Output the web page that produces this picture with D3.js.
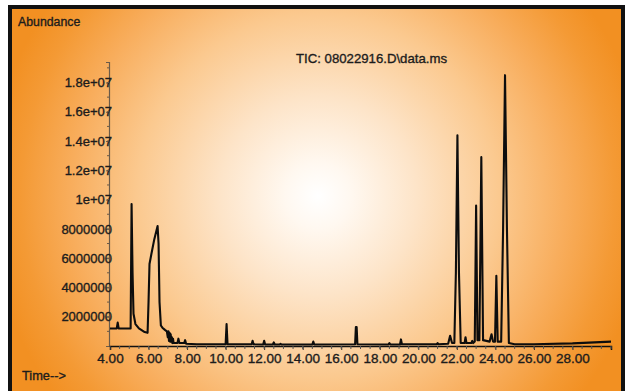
<!DOCTYPE html>
<html><head><meta charset="utf-8">
<script src="https://cdn.jsdelivr.net/npm/d3@7"></script>
<style>html,body{margin:0;padding:0;background:#fff;}svg{display:block;}</style>
</head><body>
<script>
// ---- data ----
const title = "TIC: 08022916.D\\data.ms";
const yLabel = "Abundance";
const xLabel = "Time-->";
const xTickValues = [4, 6, 8, 10, 12, 14, 16, 18, 20, 22, 24, 26, 28];
const yTickValues = [2e6, 4e6, 6e6, 8e6, 1e7, 1.2e7, 1.4e7, 1.6e7, 1.8e7];
const yTickLabels = ["2000000", "4000000", "6000000", "8000000", "1e+07", "1.2e+07", "1.4e+07", "1.6e+07", "1.8e+07"];
// retention time (min)
const times = [4.00,4.35,4.40,4.45,5.07,5.12,5.17,5.22,5.32,5.50,5.80,5.95,6.00,6.05,6.15,6.30,6.47,6.52,6.57,6.64,6.72,6.85,6.95,7.00,7.03,7.06,7.09,7.12,7.15,7.18,7.21,7.24,7.27,7.30,7.50,7.55,7.60,7.85,7.90,7.95,8.50,10.00,10.05,10.10,11.35,11.40,11.45,11.95,12.00,12.05,12.45,12.50,12.55,12.80,12.85,12.90,14.50,14.55,14.60,16.72,16.76,16.80,16.84,18.45,18.50,18.55,19.05,19.10,19.15,20.95,21.00,21.05,21.55,21.65,21.75,21.87,21.95,22.03,22.11,22.20,22.40,22.45,22.50,22.75,22.80,22.85,22.93,23.00,23.07,23.17,23.27,23.36,23.70,23.80,23.88,23.98,24.05,24.12,24.30,24.40,24.50,24.60,24.70,25.00,26.00,28.00,30.00];
// abundance (counts)
const abundance = [1.20e6,1.20e6,1.60e6,1.20e6,1.20e6,9.70e6,5.0e6,2.2e6,1.5e6,1.2e6,0.95e6,0.90e6,3.0e6,5.6e6,6.3e6,7.3e6,8.2e6,7.0e6,3.0e6,1.4e6,1.25e6,1.1e6,1.0e6,0.6e6,1.0e6,0.35e6,0.9e6,0.3e6,0.8e6,0.3e6,0.6e6,0.2e6,0.5e6,0.2e6,0.2e6,0.5e6,0.2e6,0.2e6,0.4e6,0.15e6,0.12e6,0.12e6,1.5e6,0.12e6,0.12e6,0.35e6,0.12e6,0.10e6,0.35e6,0.10e6,0.10e6,0.25e6,0.10e6,0.10e6,0.15e6,0.10e6,0.10e6,0.30e6,0.10e6,0.12e6,1.3e6,1.3e6,0.12e6,0.10e6,0.20e6,0.10e6,0.10e6,0.45e6,0.12e6,0.12e6,0.20e6,0.12e6,0.15e6,0.70e6,0.20e6,0.20e6,5.0e6,14.4e6,5.0e6,0.20e6,0.20e6,0.60e6,0.20e6,0.20e6,0.35e6,0.20e6,0.30e6,9.6e6,0.40e6,0.40e6,12.9e6,0.40e6,0.30e6,0.80e6,0.30e6,0.30e6,4.8e6,0.30e6,0.30e6,8.0e6,18.5e6,8.0e6,0.20e6,0.12e6,0.12e6,0.18e6,0.30e6];

// ---- layout ----
const W = 627, H = 391;
const svg = d3.select("body").append("svg").attr("width", W).attr("height", H);

const defs = svg.append("defs");
const grad = defs.append("radialGradient").attr("id", "bg")
  .attr("gradientUnits", "userSpaceOnUse").attr("cx", 318).attr("cy", 196).attr("r", 330);
[[0, "#ffffff"], [0.1, "#fff8f0"], [0.3, "#fde4c8"], [0.55, "#fbc98f"], [0.75, "#f8ad5c"], [0.9, "#f49a35"], [1, "#f29022"]]
  .forEach(([o, c]) => grad.append("stop").attr("offset", o).attr("stop-color", c));

svg.append("rect").attr("x", 10).attr("y", 7).attr("width", 613).attr("height", 392)
  .attr("fill", "url(#bg)").attr("stroke", "#111").attr("stroke-width", 4);

const x = d3.scaleLinear().domain([4, 30]).range([110, 611]);
const y = d3.scaleLinear().domain([0, 1.94e7]).range([346, 62]);

const font = "'Liberation Sans', Arial, sans-serif";
const ink = "#1c1c1c";
function styleText(sel, size) {
  sel.attr("font-family", font).attr("font-size", size).attr("fill", ink)
     .attr("stroke", ink).attr("stroke-width", 0.35);
}

// y axis
const yAxis = d3.axisLeft(y).tickValues(yTickValues).tickFormat((d, i) => yTickLabels[i]).tickSize(3).tickPadding(-6);
const gy = svg.append("g").attr("transform", `translate(${x(4) - 1},0)`).call(yAxis);
gy.select(".domain").attr("stroke", "#6a5a48").attr("stroke-width", 1.2);
gy.selectAll(".tick line").attr("stroke", "#6a5a48");
styleText(gy.selectAll("text"), 13);
// minor y ticks
svg.append("g").selectAll("line").data(d3.range(1e6, 1.94e7, 1e6)).join("line")
  .attr("x1", x(4) - 3).attr("x2", x(4) - 1).attr("y1", d => y(d)).attr("y2", d => y(d)).attr("stroke", "#6a5a48");

// x axis
const xAxis = d3.axisBottom(x).tickValues(xTickValues).tickFormat(d3.format(".2f")).tickSize(4).tickPadding(3);
const gx = svg.append("g").attr("transform", `translate(0,${y(0)})`).call(xAxis);
gx.select(".domain").attr("stroke", "#111").attr("stroke-width", 1.5);
gx.selectAll(".tick line").attr("stroke", "#333");
styleText(gx.selectAll("text"), 13.5);
svg.append("g").selectAll("line").data(d3.range(4.5, 30.01, 0.5)).join("line")
  .attr("x1", d => x(d)).attr("x2", d => x(d)).attr("y1", y(0)).attr("y2", y(0) + 3).attr("stroke", "#555");

// trace
const pts = times.map((t, i) => [t, abundance[i]]);
svg.append("path").datum(pts)
  .attr("d", d3.line().x(d => x(d[0])).y(d => y(d[1])))
  .attr("fill", "none").attr("stroke", "#0d0d0d").attr("stroke-width", 2.1).attr("stroke-linejoin", "round");

// labels
styleText(svg.append("text").attr("x", 18).attr("y", 26).text(yLabel), 12.3);
styleText(svg.append("text").attr("x", 296).attr("y", 63).text(title), 13.2);
styleText(svg.append("text").attr("x", 22).attr("y", 380).text(xLabel), 12.8);
</script>
</body></html>
